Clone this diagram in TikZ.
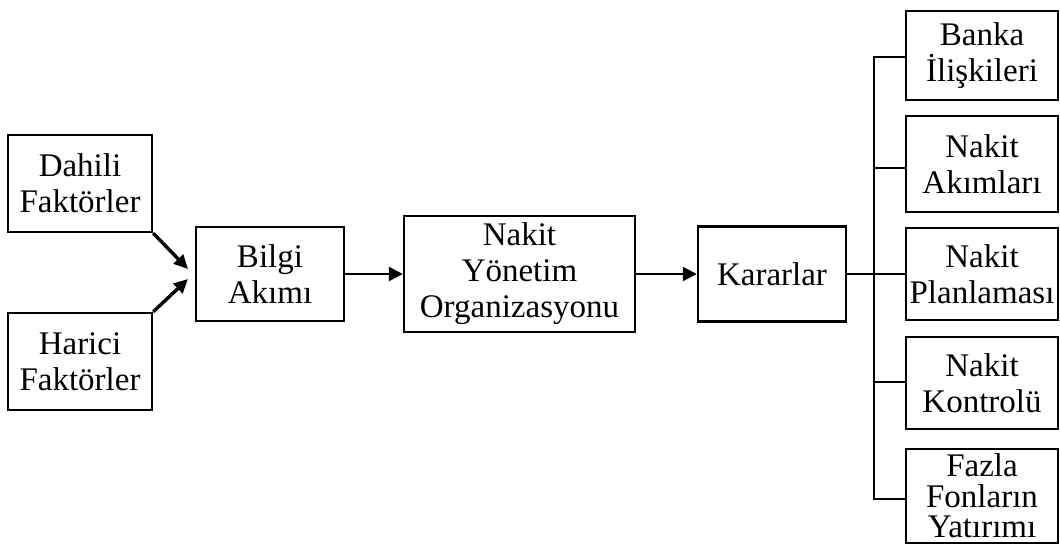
\documentclass[tikz,border=0pt]{standalone}
\usepackage{fontspec}
\setmainfont{Liberation Serif}
\usetikzlibrary{arrows.meta}
\begin{document}
\begin{tikzpicture}[x=1pt,y=-1pt,
  box/.style={draw,line width=2.4pt,inner sep=0pt,align=center,
    font=\fontsize{33}{36}\selectfont},
  link/.style={line width=2.4pt},
  flow/.style={line width=2.4pt,-{Triangle[length=14pt,width=14pt]}},
  feed/.style={line width=3.4pt,-{Triangle[length=14pt,width=13pt]}}]
\useasboundingbox (0,0) rectangle (1060,546);

% inputs
\node[box,minimum width=144pt,minimum height=97pt] (dahili) at (80,183.5) {Dahili\\Faktörler};
\node[box,minimum width=144pt,minimum height=97pt] (harici) at (80,361.5) {Harici\\Faktörler};

% main chain
\node[box,minimum width=148pt,minimum height=94pt] (bilgi) at (270,274) {Bilgi\\Akımı};
\node[box,minimum width=231pt,minimum height=116pt] (nakit) at (519.5,274) {Nakit\\Yönetim\\Organizasyonu};
\node[box,minimum width=148pt,minimum height=95pt] (karar) at (772,274) {Kararlar};

% decision areas
\node[box,minimum width=152pt,minimum height=89pt] (banka) at (982,55.5) {Banka\\İlişkileri};
\node[box,minimum width=152pt,minimum height=96pt] (akim) at (982,164) {Nakit\\Akımları};
\node[box,minimum width=152pt,minimum height=92pt] (plan) at (982,274) {Nakit\\Planlaması};
\node[box,minimum width=152pt,minimum height=92pt] (kontrol) at (982,383) {Nakit\\Kontrolü};
\node[box,minimum width=152pt,minimum height=94pt,
  font=\fontsize{33}{30.5}\selectfont] (fazla) at (982,496) {Fazla\\Fonların\\Yatırımı};

% feeds into the information flow
\coordinate (tipA) at (188,269);
\coordinate (tipB) at (188,279);
\draw[feed] (dahili.south east) -- (tipA);
\draw[feed] (harici.north east) -- (tipB);

\draw[flow] (bilgi) -- (nakit);
\draw[flow] (nakit) -- (karar);
\draw[link] (karar.east) -- (plan.west);

% distribution bus
\coordinate (busTop) at (874,57);
\coordinate (busB) at (874,168);
\coordinate (busD) at (874,382);
\coordinate (busBot) at (874,499);
\draw[link] (busTop -| banka.west) -- (busTop) -- (busBot) -- (busBot -| fazla.west);
\draw[link] (busB) -- (busB -| akim.west);
\draw[link] (busD) -- (busD -| kontrol.west);
\end{tikzpicture}
\end{document}
